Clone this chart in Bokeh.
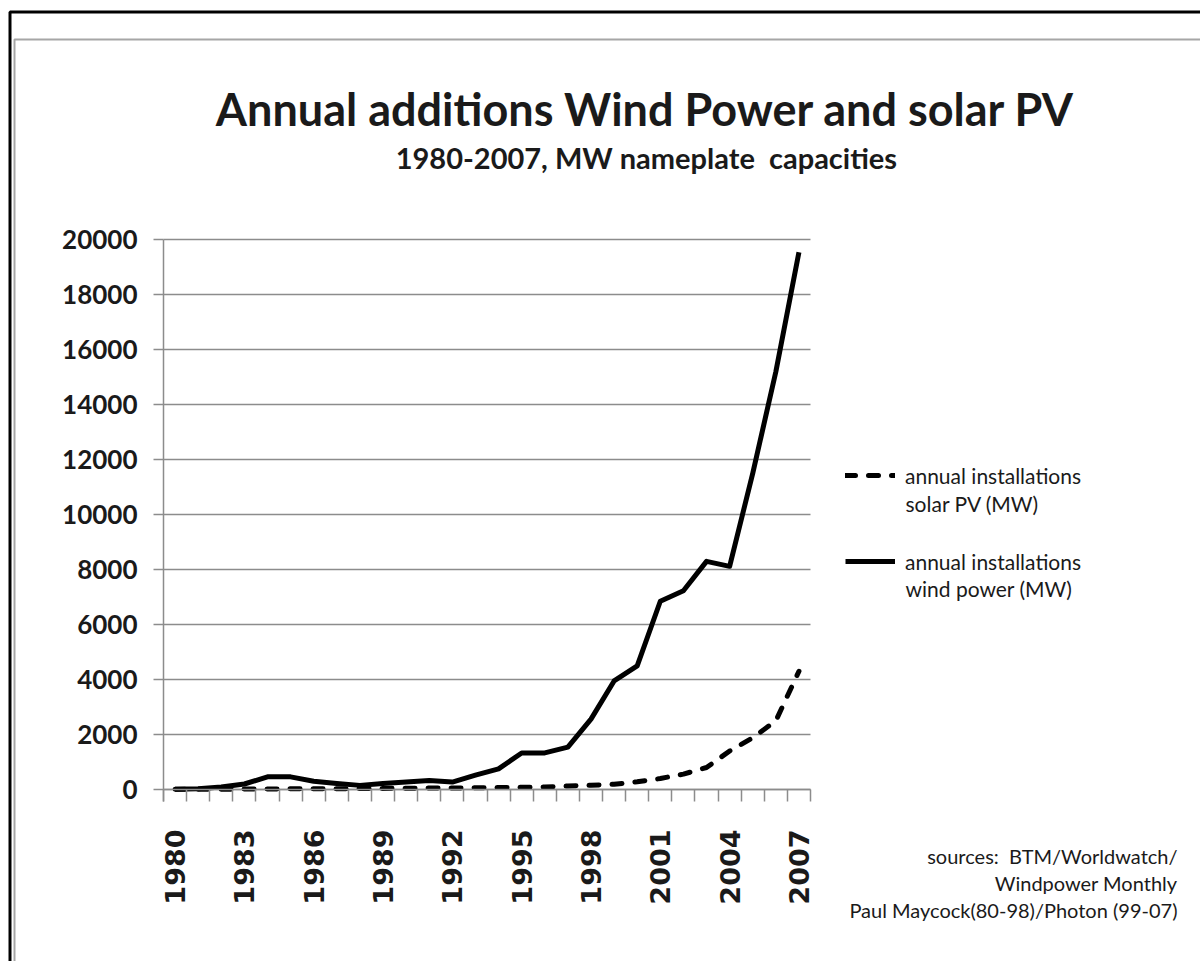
import math
from bokeh.plotting import figure
from bokeh.models import (Range1d, FixedTicker, NumeralTickFormatter, BoxAnnotation,
                          Label, Legend, LegendItem, Grid)
from bokeh.embed import file_html
from bokeh.resources import INLINE

years = list(range(1980, 2008))
wind = [10, 30, 90, 200, 460, 460, 300, 220, 150, 220, 270, 330, 270, 520, 750,
        1330, 1330, 1540, 2560, 3950, 4500, 6850, 7230, 8300, 8120, 11500, 15200, 19550]
solar = [5, 7, 9, 17, 22, 23, 26, 29, 34, 40, 46, 55, 58, 60, 69,
         78, 89, 126, 155, 190, 280, 400, 560, 800, 1400, 1880, 2500, 4300]
year_labels = years[::3]
y_ticks = list(range(0, 20001, 2000))

NB = "\u00a0"
title_text = "Annual additions Wind Power and solar PV"
subtitle_text = "1980-2007, MW nameplate" + NB + " capacities"
legend_solar = ["annual installations", "solar PV (MW)"]
legend_wind = ["annual installations", "wind power (MW)"]
sources = ["sources:" + NB + " BTM/Worldwatch/", "Windpower Monthly", "Paul Maycock(80-98)/Photon (99-07)"]

W, H = 1200, 961
# plot-area placement in canvas pixels
PX_L, PX_R, PY_T, PY_B = 163.0, 810.0, 239.3, 789.0
XMIN, XMAX, YMIN, YMAX = years[0] - 0.5, years[-1] + 0.5, 0, 20000
sx = (PX_R - PX_L) / (XMAX - XMIN)
sy = (PY_B - PY_T) / (YMAX - YMIN)
x_range = Range1d(XMIN - PX_L / sx, XMIN + (W - PX_L) / sx)
y_range = Range1d(YMIN - (H - PY_B) / sy, YMAX + PY_T / sy)

GRID = "#8c8c8c"
TXT = "#1a1a1a"

p = figure(width=W, height=H, output_backend="svg", toolbar_location=None,
           x_range=x_range, y_range=y_range, min_border=0)
p.outline_line_color = None
p.background_fill_color = "white"
p.border_fill_color = "white"
p.xgrid.grid_line_color = None
p.ygrid.grid_line_color = None

# horizontal gridlines only over the plot area
g = Grid(dimension=1, ticker=FixedTicker(ticks=y_ticks), grid_line_color=GRID, grid_line_width=1.5)
if "cross_bounds" in Grid.properties():
    g.cross_bounds = (XMIN, XMAX)
    p.add_layout(g)
else:
    p.segment(x0=[XMIN] * len(y_ticks), x1=[XMAX] * len(y_ticks), y0=y_ticks, y1=y_ticks,
              line_color=GRID, line_width=1.5, level="underlay")

# y axis
ya = p.yaxis[0]
ya.fixed_location = XMIN
ya.bounds = (YMIN - 12 / sy, YMAX)
ya.ticker = FixedTicker(ticks=y_ticks)
ya.formatter = NumeralTickFormatter(format="0")
ya.axis_line_color = GRID
ya.axis_line_width = 1.5
ya.major_tick_line_color = GRID
ya.major_tick_line_width = 1.5
ya.major_tick_out = 10
ya.major_tick_in = 0
ya.minor_tick_line_color = None
ya.major_label_standoff = 16
ya.major_label_text_font = "Lato"
ya.major_label_text_font_style = "bold"
ya.major_label_text_font_size = "26px"
ya.major_label_text_color = TXT

# x axis
xa = p.xaxis[0]
xa.fixed_location = YMIN
xa.bounds = (XMIN, XMAX)
xa.ticker = FixedTicker(ticks=year_labels, minor_ticks=[y - 0.5 for y in years] + [years[-1] + 0.5])
xa.axis_line_color = GRID
xa.axis_line_width = 1.5
xa.major_tick_out = 0
xa.major_tick_in = 0
xa.minor_tick_line_color = GRID
xa.minor_tick_line_width = 1.5
xa.minor_tick_out = 12
xa.minor_tick_in = 0
xa.major_label_orientation = math.pi / 2
xa.major_label_standoff = 28
xa.major_label_text_font = "DejaVu Sans"
xa.major_label_text_font_style = "bold"
xa.major_label_text_font_size = "27px"
xa.major_label_text_color = TXT

r_solar = p.line(years, solar, line_color="black", line_width=5, line_dash="10 13", line_cap="round")
r_wind = p.line(years, wind, line_color="black", line_width=5, line_join="round")

legend = Legend(items=[LegendItem(label=legend_solar[0], renderers=[r_solar]),
                       LegendItem(label=legend_wind[0], renderers=[r_wind])],
                location=(845, 385), orientation="vertical",
                glyph_width=50, glyph_height=30, label_height=30, label_standoff=10,
                spacing=56, padding=0, margin=0, border_line_color=None,
                background_fill_alpha=0,
                label_text_font="Lato", label_text_font_size="21px", label_text_color=TXT)
p.add_layout(legend, "center")

# borders
p.add_layout(BoxAnnotation(left=9.5, right=1400, top=11.5, bottom=1400,
                           left_units="canvas", right_units="canvas", top_units="canvas", bottom_units="canvas",
                           fill_alpha=0, line_color="black", line_alpha=1, line_width=3))
p.add_layout(BoxAnnotation(left=14, right=1400, top=39, bottom=1400,
                           left_units="canvas", right_units="canvas", top_units="canvas", bottom_units="canvas",
                           fill_alpha=0, line_color="#a6a6a6", line_alpha=1, line_width=2))

def lab(x, y, t, size, bold=False, align="left", baseline="alphabetic"):
    p.add_layout(Label(x=x, y=y, x_units="canvas", y_units="canvas", text=t,
                       text_font="Lato", text_font_size=size,
                       text_font_style="bold" if bold else "normal",
                       text_align=align, text_baseline=baseline, text_color=TXT))

lab(645, 108, title_text, "45px", bold=True, align="center")
lab(646, 157, subtitle_text, "29px", bold=True, align="center")
lab(905, 503, legend_solar[1], "21px")
lab(905, 588, legend_wind[1], "21px")
for i, s in enumerate(sources):
    lab(1177, 855 + 27 * i, s, "20px", align="right")

open("out.html", "w").write(file_html(p, INLINE))
